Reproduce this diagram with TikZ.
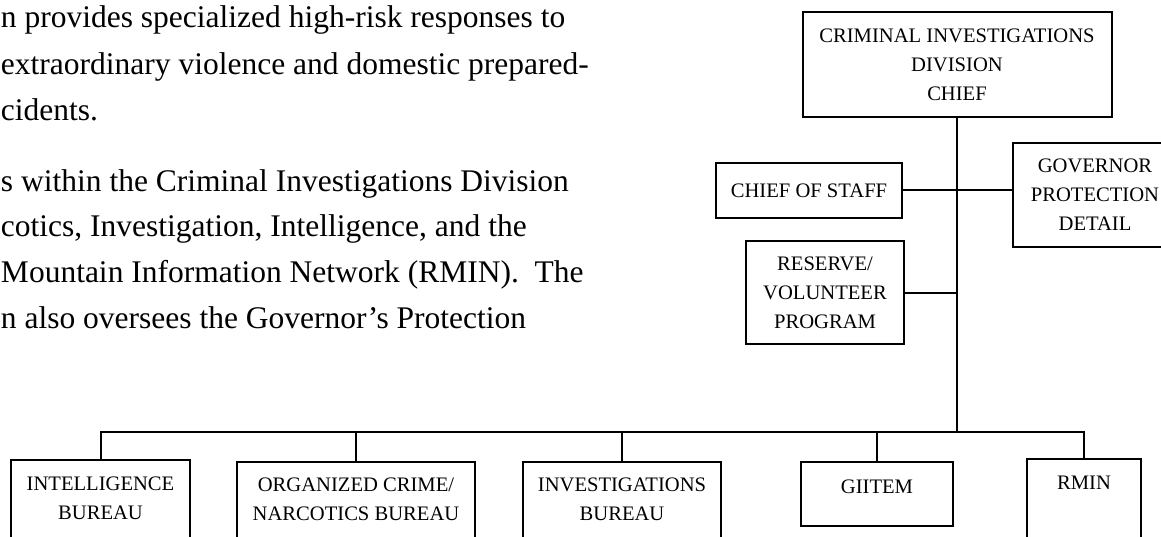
\documentclass[tikz,border=0pt]{standalone}
\usepackage{fontspec}
\setmainfont{Liberation Serif}
\usepackage{tikz}

\tikzset{
  orgbox/.style={draw, line width=2pt, align=center, inner sep=4pt,
    font=\fontsize{20.6}{29}\selectfont},
  unitbox/.style={orgbox, anchor=north, inner ysep=17pt, text depth=70pt},
  bodyline/.style={anchor=base west, inner sep=0pt, font=\fontsize{31.5}{31.5}\selectfont}
}

\begin{document}
\begin{tikzpicture}[x=1pt, y=-1pt, line width=2pt]
  \useasboundingbox (0,0) rectangle (1161,537);
  \clip (0,0) rectangle (1161,537);

  \foreach \ty/\txt in {28/{n provides specialized high-risk responses to},
      75/{extraordinary violence and domestic prepared-},
      121/{cidents.},
      192/{s within the Criminal Investigations Division},
      237/{cotics, Investigation, Intelligence, and the},
      283/{Mountain Information Network (RMIN).\ \ The},
      328/{n also oversees the Governor’s Protection}}
    \node[bodyline] (line\ty) at (0,\ty) {\txt};

  \node[orgbox, minimum width=309, minimum height=105] (cid) at (957,64.5)
    {CRIMINAL INVESTIGATIONS\\DIVISION\\CHIEF};
  \node[orgbox, minimum width=186, minimum height=55] (cos) at (809,190.5) {CHIEF OF STAFF};
  \node[orgbox, minimum width=164, minimum height=104] (gpd) at (1095,195)
    {GOVERNOR\\PROTECTION\\DETAIL};
  \node[orgbox, minimum width=158, minimum height=103] (rvp) at (825,292.5)
    {RESERVE/\\VOLUNTEER\\PROGRAM};

  \node[unitbox, minimum width=179] (intel) at (100.5,459) {INTELLIGENCE\\BUREAU};
  \node[unitbox, minimum width=238, inner ysep=16pt] (ocn) at (356,461) {ORGANIZED CRIME/\\NARCOTICS BUREAU};
  \node[unitbox, minimum width=198, inner ysep=16pt] (inv) at (622,461) {INVESTIGATIONS\\BUREAU};
  \node[unitbox, minimum width=152, inner ysep=18pt, text depth=14pt] (gii) at (877,461) {GIITEM};
  \node[unitbox, minimum width=114] (rmin) at (1084,458) {RMIN};

  \coordinate (bus) at (957,432);
  \draw (cid.south) -- (bus);
  \draw (cos.east) -- (cos.east -| gpd.west);
  \draw (rvp.east) -- (rvp.east -| cid.south);
  \draw (intel.north) |- (bus) -- (rmin.north |- bus) -- (rmin.north);
  \foreach \u in {ocn,inv,gii}
    \draw (\u.north) -- (\u.north |- bus);
\end{tikzpicture}
\end{document}
